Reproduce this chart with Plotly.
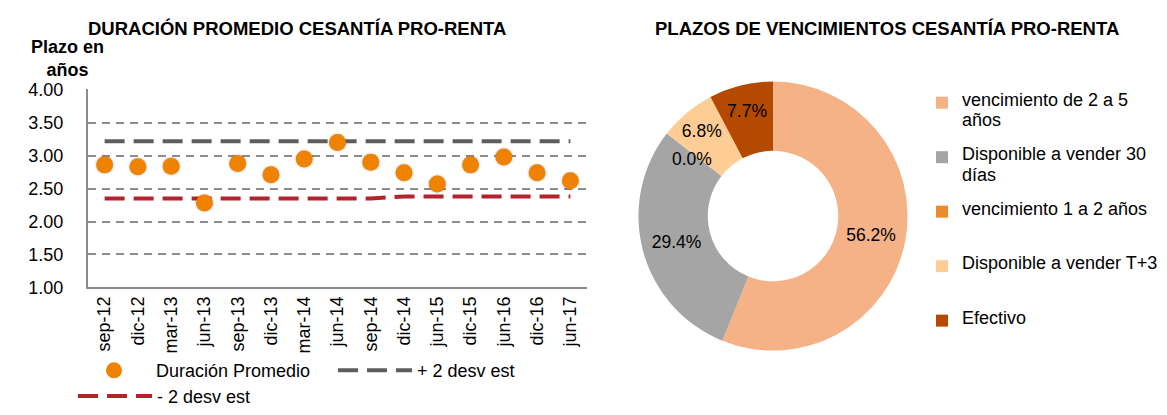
import plotly.graph_objects as go

# ---------------- data ----------------
periodos = ["sep-12", "dic-12", "mar-13", "jun-13", "sep-13", "dic-13", "mar-14",
            "jun-14", "sep-14", "dic-14", "jun-15", "dic-15", "jun-16", "dic-16", "jun-17"]
duracion_promedio = [2.86, 2.83, 2.84, 2.28, 2.88, 2.71, 2.95,
                     3.20, 2.90, 2.74, 2.57, 2.86, 2.98, 2.74, 2.62]
mas_2_desv = [3.22, 3.22, 3.22, 3.22, 3.22, 3.22, 3.22,
              3.22, 3.22, 3.22, 3.22, 3.22, 3.22, 3.22, 3.22]
menos_2_desv = [2.35, 2.35, 2.35, 2.35, 2.35, 2.35, 2.35,
                2.35, 2.35, 2.38, 2.38, 2.38, 2.38, 2.38, 2.38]
y_ticks = [1.0, 1.5, 2.0, 2.5, 3.0, 3.5, 4.0]

plazo_categorias = [["vencimiento de 2 a 5", "años"], ["Disponible a vender 30", "días"],
                    ["vencimiento 1 a 2 años"], ["Disponible a vender T+3"], ["Efectivo"]]
plazo_values = [56.2, 29.4, 0.0, 6.8, 7.7]
plazo_colors = ["#F5B287", "#A5A5A5", "#EC8A2C", "#FECD95", "#B44A00"]

FONT = "Liberation Sans, Arial, sans-serif"
W, H = 1167, 415


def px_x(x):
    return x / W


def px_y(y):
    return 1 - y / H


# legend labels: big glyphs on a small base line-height so entries are spaced like the original
def legend_label(lines):
    parts = ["<span style='font-size:18px'>%s</span>" % ln for ln in lines]
    while len(parts) < 2:
        parts.append(" ")
    return "<br> <br>".join(parts) + "<br> <br> "


plazo_labels = [legend_label(c) for c in plazo_categorias]

X_DOM = [px_x(88), px_x(587)]
Y_DOM = [px_y(291.7), px_y(84.0)]
X_RANGE = [-0.5, len(periodos) - 0.5]
Y_RANGE = [1, 4.01]

fig = go.Figure()

# soft shadow under the markers (same data on a slightly offset overlay axis, drawn first)
fig.add_trace(go.Scatter(
    x=periodos, y=duracion_promedio, mode="markers", showlegend=False, hoverinfo="skip",
    marker=dict(color="rgba(0,0,0,0.07)", size=20, line=dict(width=0)),
    xaxis="x2", yaxis="y2"))
fig.add_trace(go.Scatter(
    x=periodos, y=duracion_promedio, mode="markers", showlegend=False, hoverinfo="skip",
    marker=dict(color="rgba(0,0,0,0.12)", size=17, line=dict(width=0)),
    xaxis="x2", yaxis="y2"))
# real series on an overlay aligned exactly with the visible axes (drawn above the shadow)
fig.add_trace(go.Scatter(
    x=periodos, y=mas_2_desv, mode="lines", name="+ 2 desv est",
    line=dict(color="#5E5E5E", width=4, dash="20px,9px"),
    legend="legend2", xaxis="x3", yaxis="y3"))
fig.add_trace(go.Scatter(
    x=periodos, y=menos_2_desv, mode="lines", name="- 2 desv est",
    line=dict(color="#B2232A", width=4, dash="20px,9px"),
    legend="legend3", xaxis="x3", yaxis="y3"))
fig.add_trace(go.Scatter(
    x=periodos, y=duracion_promedio, mode="markers", name="Duración Promedio",
    marker=dict(color="#EF8200", size=17, line=dict(width=0)),
    legend="legend", xaxis="x3", yaxis="y3"))
# main (visible) axes carry an invisible helper so they are laid out
fig.add_trace(go.Scatter(
    x=periodos, y=duracion_promedio, mode="markers", showlegend=False, hoverinfo="skip",
    marker=dict(color="rgba(0,0,0,0)", size=1), xaxis="x", yaxis="y"))

fig.add_trace(go.Pie(
    labels=plazo_labels, values=plazo_values, sort=False, direction="clockwise",
    rotation=0, hole=0.485,
    marker=dict(colors=plazo_colors, line=dict(width=0)),
    texttemplate="%{value:.1f}%", textposition="inside",
    insidetextorientation="horizontal",
    textfont=dict(family=FONT, size=17.5, color="#000000"),
    domain=dict(x=[px_x(632), px_x(914)], y=[px_y(358), px_y(76)]),
    legend="legend4", hoverinfo="value"))

leg_common = dict(xanchor="left", yanchor="middle", orientation="h",
                  font=dict(size=18), bgcolor="rgba(0,0,0,0)", itemwidth=74)

fig.update_layout(
    width=W, height=H, margin=dict(l=0, r=0, t=0, b=0),
    paper_bgcolor="white", plot_bgcolor="white",
    font=dict(family=FONT, size=18, color="#000000"),
    showlegend=True,
    xaxis=dict(domain=X_DOM, type="category", range=X_RANGE,
               categoryorder="array", categoryarray=periodos,
               showgrid=False, showline=True, linecolor="#8C8C8C", linewidth=2,
               tickangle=-90, ticks="", tickfont=dict(size=18), zeroline=False),
    yaxis=dict(domain=Y_DOM, range=Y_RANGE,
               tickvals=y_ticks, tickformat=".2f",
               showgrid=True, gridcolor="#8C8C8C", gridwidth=1.5, griddash="8px,6px",
               showline=True, linecolor="#8C8C8C", linewidth=2,
               ticks="outside", ticklen=19, tickcolor="rgba(0,0,0,0)",
               tickfont=dict(size=18), zeroline=False),
    xaxis2=dict(domain=[X_DOM[0] + px_x(2), X_DOM[1] + px_x(2)], type="category",
                range=X_RANGE, categoryorder="array", categoryarray=periodos,
                visible=False, overlaying="x", anchor="y2"),
    yaxis2=dict(domain=[Y_DOM[0] - 3 / H, Y_DOM[1] - 3 / H], range=Y_RANGE,
                visible=False, overlaying="y", anchor="x2"),
    xaxis3=dict(domain=X_DOM, type="category",
                range=X_RANGE, categoryorder="array", categoryarray=periodos,
                visible=False, overlaying="x", anchor="y3"),
    yaxis3=dict(domain=Y_DOM, range=Y_RANGE,
                visible=False, overlaying="y", anchor="x3"),
    legend=dict(x=px_x(72), y=px_y(379), **leg_common),
    legend2=dict(x=px_x(333), y=px_y(379), **leg_common),
    legend3=dict(x=px_x(73), y=px_y(406), **leg_common),
    legend4=dict(x=px_x(922), y=px_y(86), xanchor="left", yanchor="top",
                 orientation="v", valign="top", font=dict(size=7.92),
                 bgcolor="rgba(0,0,0,0)"),
    annotations=[
        dict(text="<b>DURACIÓN PROMEDIO CESANTÍA PRO-RENTA</b>", x=px_x(297), y=px_y(20),
             xref="paper", yref="paper", showarrow=False, xanchor="center", yanchor="middle",
             font=dict(size=18.5)),
        dict(text="<b>PLAZOS DE VENCIMIENTOS CESANTÍA PRO-RENTA</b>", x=px_x(887), y=px_y(20),
             xref="paper", yref="paper", showarrow=False, xanchor="center", yanchor="middle",
             font=dict(size=18.5)),
        dict(text="<b>Plazo en<br>años</b>", x=px_x(67), y=px_y(52),
             xref="paper", yref="paper", showarrow=False, xanchor="center", yanchor="middle",
             align="center", font=dict(size=18)),
        dict(text="%.1f%%" % plazo_values[2], x=px_x(692), y=px_y(157),
             xref="paper", yref="paper", showarrow=False, xanchor="center", yanchor="middle",
             font=dict(size=17.5, color="#000000")),
    ],
)

fig.write_html("out.html",
               config={"displayModeBar": False},
               post_script="document.body.style.margin='0px';"
                           "document.documentElement.style.overflow='hidden';")
